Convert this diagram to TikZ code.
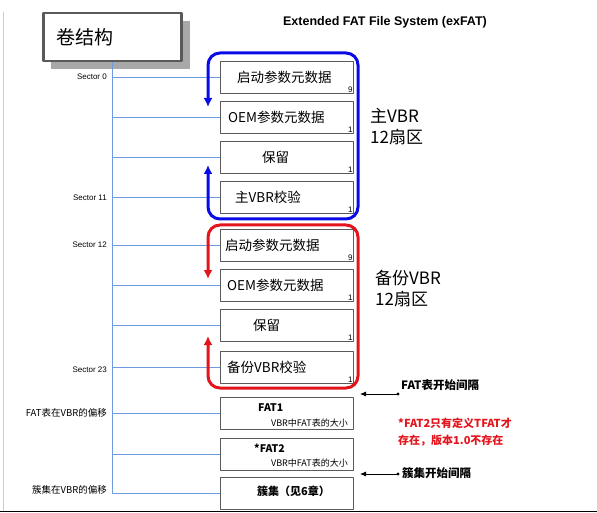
\documentclass[tikz,border=0pt]{standalone}
\usepackage{fontspec}
\setmainfont{Liberation Sans}
\newfontfamily\cjk{Noto Sans CJK SC}
\usepackage{tikz}
\usetikzlibrary{arrows.meta,positioning}
\definecolor{spineblue}{HTML}{6C9BDE}
\definecolor{vbrblue}{HTML}{0A0AE6}
\definecolor{vbrred}{HTML}{E3141C}
\definecolor{boxgray}{HTML}{5A5A5A}
\definecolor{shadowgray}{HTML}{A8A8A8}
\tikzset{
  every picture/.style={line join=round, line cap=round, >=Stealth},
  cell/.style={draw=boxgray, line width=0.9pt, fill=white, minimum width=133pt, minimum height=32pt, inner sep=0pt, anchor=north west},
  celltxt/.style={font=\cjk\fontsize{13.5}{15}\selectfont, inner sep=0pt},
  smalltxt/.style={font=\cjk\fontsize{9}{10}\selectfont, inner sep=0pt},
  boldtxt/.style={font=\cjk\bfseries\fontsize{10.5}{12}\selectfont, inner sep=0pt},
  cnt/.style={font=\fontsize{8}{9}\selectfont, inner sep=1.2pt, anchor=south east},
  sector/.style={font=\fontsize{8}{9}\selectfont, anchor=east, inner sep=0pt},
  offs/.style={font=\cjk\fontsize{9.5}{11}\selectfont, anchor=east, inner sep=0pt},
  spine/.style={draw=spineblue, line width=0.8pt},
  bracket/.style={line width=3pt, rounded corners=12pt, {Latex[length=9pt,width=9pt]}-{Latex[length=9pt,width=9pt]}},
  grouplbl/.style={font=\cjk\fontsize{17}{21}\selectfont, align=left, anchor=west, inner sep=0pt},
  gaplbl/.style={font=\cjk\bfseries\fontsize{11.5}{13}\selectfont, anchor=west, inner sep=0pt},
  gaparrow/.style={line width=0.8pt, -{Latex[length=6pt,width=5pt]}},
}

\begin{document}
\begin{tikzpicture}[x=1pt,y=-1pt]
\useasboundingbox (0,0) rectangle (597,513);
\draw[gray!40, line width=0.8pt] (3,12) -- (3,511);
\draw[black, line width=1.2pt] (0,511.5) -- (597,511.5);

% title
\fill[shadowgray] (51,21) rectangle (190,69);
\node[draw=boxgray, line width=2.5pt, fill=white, text width=112pt, inner xsep=13pt, minimum height=48pt, align=left,
  font=\cjk\fontsize{19}{22}\selectfont] (title) at (112.5,37) {卷结构};
\node[font=\bfseries\fontsize{12.5}{14}\selectfont] (head) at (385,22) {Extended FAT File System (exFAT)};

% main VBR
\node[cell] (b1) at (220,61) {};
\node[cell] (b2) at (220,101) {};
\node[cell] (b3) at (220,141) {};
\node[cell] (b4) at (220,181) {};
% backup VBR
\node[cell] (r1) at (220,229) {};
\node[cell] (r2) at (220,269) {};
\node[cell] (r3) at (220,309) {};
\node[cell] (r4) at (220,351) {};
% FAT and clusters
\node[cell] (f1) at (220,397) {};
\node[cell] (f2) at (220,438) {};
\node[cell] (c3) at (220,477) {};

\node[celltxt, anchor=west, right=17pt of b1.west] (b1t) {启动参数元数据};
\node[celltxt, anchor=west, right=8pt of b2.west] (b2t) {OEM参数元数据};
\node[celltxt, anchor=west, right=42pt of b3.west] (b3t) {保留};
\node[celltxt, anchor=west, right=15pt of b4.west] (b4t) {主VBR校验};
\node[celltxt, anchor=west, right=5pt of r1.west] (r1t) {启动参数元数据};
\node[celltxt, anchor=west, right=7pt of r2.west] (r2t) {OEM参数元数据};
\node[celltxt, anchor=west, right=33pt of r3.west] (r3t) {保留};
\node[celltxt, anchor=west, right=7pt of r4.west] (r4t) {备份VBR校验};

\node[cnt] (b1n) at (b1.south east) {9};
\node[cnt] (b2n) at (b2.south east) {1};
\node[cnt] (b3n) at (b3.south east) {1};
\node[cnt] (b4n) at (b4.south east) {1};
\node[cnt] (r1n) at (r1.south east) {9};
\node[cnt] (r2n) at (r2.south east) {1};
\node[cnt] (r3n) at (r3.south east) {1};
\node[cnt] (r4n) at (r4.south east) {1};

\node[boldtxt, anchor=west] (f1t) at (258,408) {FAT1};
\node[smalltxt, anchor=east] (f1s) at (348,423) {VBR中FAT表的大小};
\node[boldtxt, anchor=west] (f2t) at (254,448) {*FAT2};
\node[smalltxt, anchor=east] (f2s) at (348,463) {VBR中FAT表的大小};
\node[boldtxt, font=\cjk\bfseries\fontsize{11}{13}\selectfont, anchor=west] (c3t) at (257,491) {簇集（见6章）};

% spine and links
\draw[spine] (title.south) -- (title.south |- c3.west) -- (c3.west);
\foreach \b in {b1,b2,b3,b4,r1,r2,r3,r4,f1,f2}
  \draw[spine] (title.south |- \b.west) -- (\b.west);

\node[sector] (s0) at (107,77) {Sector 0};
\node[sector] (s11) at (107,198) {Sector 11};
\node[sector] (s12) at (107,245) {Sector 12};
\node[sector] (s23) at (107,370) {Sector 23};
\node[offs] (sfat) at (107,413) {FAT表在VBR的偏移};
\node[offs] (sclu) at (107,490) {簇集在VBR的偏移};

% brackets
\draw[bracket, vbrblue] (208,107) |- (358,53) |- (208,219) -- (208,165);
\draw[bracket, vbrred] (208,279) |- (358,225) |- (208,388) -- (208,336);
\node[grouplbl] (mainlbl) at (370,127) {主VBR\\12扇区};
\node[grouplbl] (backlbl) at (375,289) {备份VBR\\12扇区};

% gaps
\node[gaplbl] (g1) at (401,385) {FAT表开始间隔};
\node[gaplbl] (g2) at (402,473) {簇集开始间隔};
\coordinate (g1a) at (398,394);
\coordinate (g1b) at (360,394);
\coordinate (g2a) at (398,474);
\coordinate (g2b) at (360,474);
\draw[gaparrow] (g1a) -- (g1b);
\draw[gaparrow] (g2a) -- (g2b);
\fill (g1a) circle[radius=1.6pt];
\fill (g2a) circle[radius=1.6pt];

\node[font=\cjk\bfseries\fontsize{11}{17}\selectfont, text=vbrred, align=left, anchor=west, inner sep=0pt] (note) at (398,432) {*FAT2只有定义TFAT才\\存在，版本1.0不存在};
\end{tikzpicture}
\end{document}
